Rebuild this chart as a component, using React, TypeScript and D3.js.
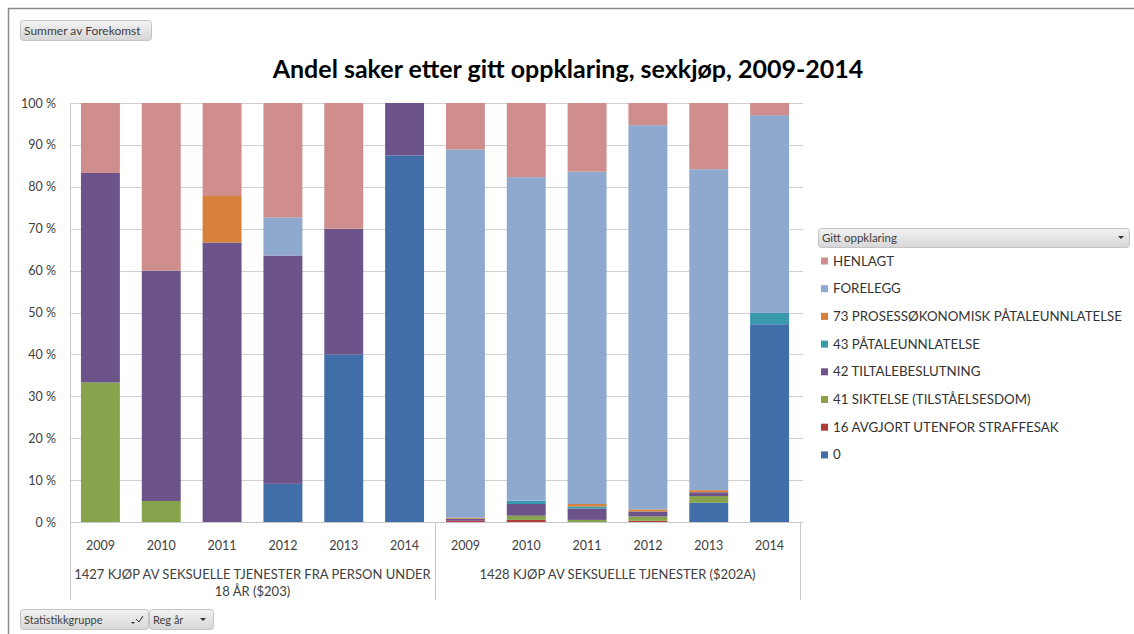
import React from "react";
import * as d3 from "d3";

const years = ["2009", "2010", "2011", "2012", "2013", "2014"];
const groupLabels = [
  ["1427 KJØP AV SEKSUELLE TJENESTER FRA PERSON UNDER", "18 ÅR ($203)"],
  ["1428 KJØP AV SEKSUELLE TJENESTER ($202A)"],
];
const seriesNames = [
  "0",
  "16 AVGJORT UTENFOR STRAFFESAK",
  "41 SIKTELSE (TILSTÅELSESDOM)",
  "42 TILTALEBESLUTNING",
  "43 PÅTALEUNNLATELSE",
  "73 PROSESSØKONOMISK PÅTALEUNNLATELSE",
  "FORELEGG",
  "HENLAGT",
];
const seriesColors = ["#3F6EA8", "#B23C3A", "#87A34B", "#6C548B", "#3899AD", "#D8813A", "#8FA8CE", "#CF8D8B"];

// values per series, 12 categories (group 1427: 2009-2014, group 1428: 2009-2014), in percent
const s0 = [0, 0, 0, 9.1, 40, 87.5, 0, 0, 0, 0, 4.6, 47.2];
const s16 = [0, 0, 0, 0, 0, 0, 0.3, 0.5, 0, 0.3, 0, 0];
const s41 = [33.3, 5, 0, 0, 0, 0, 0, 1.0, 0.5, 1.0, 1.6, 0];
const s42 = [50, 55, 66.7, 54.5, 30, 12.5, 0.5, 2.8, 2.7, 1.2, 0.9, 0];
const s43 = [0, 0, 0, 0, 0, 0, 0, 0.8, 0.5, 0, 0, 2.7];
const s73 = [0, 0, 11.1, 0, 0, 0, 0.2, 0, 0.6, 0.5, 0.5, 0];
const sForelegg = [0, 0, 0, 9.1, 0, 0, 87.9, 77.2, 79.3, 91.7, 76.6, 47.2];
const sHenlagt = [16.7, 40, 22.2, 27.3, 30, 0, 11.1, 17.7, 16.4, 5.3, 15.8, 2.9];
const seriesValues = [s0, s16, s41, s42, s43, s73, sForelegg, sHenlagt];

const yTicks = [0, 10, 20, 30, 40, 50, 60, 70, 80, 90, 100];

const W = 1134;
const H = 634;
const plotL = 70;
const plotR = 800;
const plotT = 103;
const plotB = 522;
const FONT = "Lato, 'Open Sans', sans-serif";
const TXT = "#404040";

export default function App() {
  const keys = [0, 1].flatMap((g) => years.map((y) => `${g}-${y}`));
  const rows = keys.map((k, i) => {
    const r: any = { key: k };
    seriesNames.forEach((s, j) => (r[s] = seriesValues[j][i]));
    return r;
  });
  const stacked = d3.stack<any>().keys(seriesNames)(rows);

  const x = d3.scaleBand<string>().domain(keys).range([plotL, plotR]).paddingInner(0.36).paddingOuter(0.18);
  const y = d3.scaleLinear().domain([0, 100]).range([plotB, plotT]);

  const groupSep = [plotL, (plotL + plotR) / 2, plotR];
  const legendOrder = seriesNames.map((_, i) => i).reverse();

  return (
    <svg
      width={W}
      height={H}
      style={{ position: "absolute", left: 0, top: 0, display: "block", background: "#fff" }}
      fontFamily={FONT}
    >
      <defs>
        <linearGradient id="btn" x1="0" y1="0" x2="0" y2="1">
          <stop offset="0" stopColor="#f3f3f3" />
          <stop offset="1" stopColor="#d6d6d6" />
        </linearGradient>
      </defs>
      {/* outer frame */}
      <line x1={8} x2={W} y1={8.5} y2={8.5} stroke="#8a8a8a" strokeWidth={1.5} />
      <line x1={8.5} x2={8.5} y1={8} y2={H} stroke="#8a8a8a" strokeWidth={1.5} />

      {/* top button */}
      <rect x={20.5} y={20.5} width={131} height={20} rx={3} fill="url(#btn)" stroke="#c4c4c4" />
      <text x={24} y={34.5} fontSize={12} fill={TXT}>Summer av Forekomst</text>

      {/* title */}
      <text x={568} y={78} textAnchor="middle" fontSize={25} fontWeight="bold" fill="#000">
        Andel saker etter gitt oppklaring, sexkjøp, 2009-2014
      </text>

      {/* gridlines */}
      {yTicks.map((t) => (
        <line key={t} x1={plotL} x2={plotR + 3} y1={Math.round(y(t)) + 0.5} y2={Math.round(y(t)) + 0.5} stroke="#d0d0d0" strokeWidth={1} />
      ))}
      {yTicks.map((t) => (
        <text key={"l" + t} x={56} y={y(t) + 4.5} textAnchor="end" fontSize={12.5} fill={TXT}>
          {`${t} %`}
        </text>
      ))}

      {/* bars */}
      {stacked.map((layer, si) => (
        <g key={layer.key} fill={seriesColors[si]}>
          {layer.map((d, i) =>
            d[1] - d[0] > 0 ? (
              <rect key={i} x={x(keys[i])} width={x.bandwidth()} y={y(d[1])} height={y(d[0]) - y(d[1])} />
            ) : null
          )}
        </g>
      ))}

      {/* axes */}
      <line x1={plotL + 0.5} x2={plotL + 0.5} y1={plotT} y2={plotB} stroke="#c8c8c8" />
      <line x1={plotL} x2={plotR + 3} y1={plotB + 0.5} y2={plotB + 0.5} stroke="#c8c8c8" />
      {groupSep.map((sx, i) => (
        <line key={i} x1={Math.round(sx) + 0.5} x2={Math.round(sx) + 0.5} y1={plotB} y2={600} stroke="#c8c8c8" />
      ))}
      {keys.map((k, i) => (
        <text key={k} x={(x(k) as number) + x.bandwidth() / 2} y={550} textAnchor="middle" fontSize={12.5} fill={TXT}>
          {years[i % 6]}
        </text>
      ))}
      {groupLabels.map((lines, g) =>
        lines.map((ln, li) => (
          <text
            key={g + "-" + li}
            x={(groupSep[g] + groupSep[g + 1]) / 2}
            y={579 + li * 17}
            textAnchor="middle"
            fontSize={13}
            fill={TXT}
          >
            {ln}
          </text>
        ))
      )}

      {/* legend */}
      <rect x={818.5} y={228.5} width={311} height={19} rx={3} fill="url(#btn)" stroke="#c4c4c4" />
      <text x={822} y={242} fontSize={11.5} fill={TXT}>Gitt oppklaring</text>
      <path d="M1118,236 l6,0 l-3,3 z" fill="#333" />
      {legendOrder.map((si, k) => (
        <g key={si} transform={`translate(0, ${261 + k * 27.7})`}>
          <rect x={821} y={-3.5} width={7} height={7} fill={seriesColors[si]} />
          <text x={833} y={4.5} fontSize={13.3} fill="#333">{seriesNames[si]}</text>
        </g>
      ))}

      {/* bottom buttons */}
      <rect x={20.5} y={609.5} width={128} height={20} rx={3} fill="url(#btn)" stroke="#c4c4c4" />
      <text x={24} y={623.5} fontSize={11} fill={TXT}>Statistikkgruppe</text>
      <path d="M131,622 l4,0 l-2,2 z" fill="#333" />
      <path d="M136,619 l3,3 l4,-6" fill="none" stroke="#333" strokeWidth={1} />
      <rect x={149.5} y={609.5} width={64} height={20} rx={3} fill="url(#btn)" stroke="#c4c4c4" />
      <text x={153} y={623.5} fontSize={11} fill={TXT}>Reg år</text>
      <path d="M200,618 l6,0 l-3,3 z" fill="#333" />
    </svg>
  );
}
